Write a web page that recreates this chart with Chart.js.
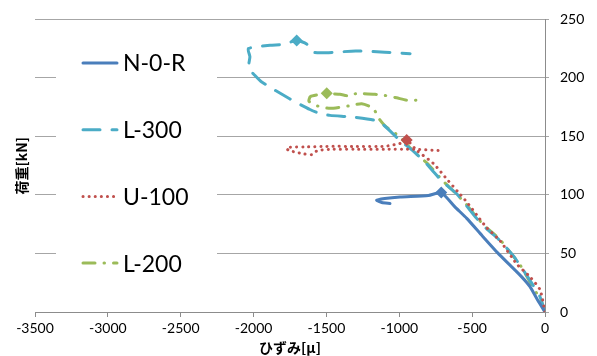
<!DOCTYPE html>
<html>
<head>
<meta charset="utf-8">
<script src="https://cdn.jsdelivr.net/npm/chart.js@4.4.0/dist/chart.umd.min.js"></script>
<style>
  body { margin: 0; background: #fff; }
  canvas { display: block; }
</style>
</head>
<body>
<canvas id="loadChart" width="597" height="356"></canvas>
<script>
// strain [μ] / load [kN]
const n0rStrain = [0, -50, -103, -160, -240, -323, -430, -537, -620, -712, -800, -995, -1100, -1155, -1120, -1064];
const n0rLoad   = [0, 10, 21.6, 30, 40, 50.3, 65, 80, 90, 102, 99.5, 98.3, 97, 95.5, 93.5, 92.7];

const l300Strain = [0, -34, -103, -172, -217, -309, -400, -469, -540, -606, -700, -767, -823, -900, -1007, -1110, -1178, -1315, -1475, -1544, -1613, -1750, -1944, -2002, -2036, -2025, -2036, -1887, -1796, -1704, -1636, -1592, -1500, -1300, -1100, -926];
const l300Load   = [0, 13, 27, 40, 48, 61, 71, 80, 91, 101, 111, 120, 128, 137, 148, 160, 164, 166.5, 168, 169.5, 173, 182, 196.5, 203.6, 208, 218, 225, 228, 228.6, 232, 229, 222, 221.5, 223, 222, 220.7];

const u100Strain = [0, -34, -103, -194, -309, -400, -469, -537, -600, -663, -767, -880, -949, -995, -1100, -1300, -1500, -1650, -1773, -1760, -1727, -1650, -1601, -1560, -1450, -1300, -1100, -900, -732];
const u100Load   = [0, 19, 30, 41, 61, 72, 83, 94, 103, 112, 127, 138, 147, 144, 141.6, 141.5, 141.5, 141, 140.5, 138, 137, 135, 134.5, 138, 139, 139, 139, 139, 138];

const l200Strain = [0, -30, -100, -170, -220, -310, -400, -470, -540, -610, -700, -800, -900, -1000, -1098, -1144, -1178, -1258, -1350, -1475, -1560, -1620, -1610, -1540, -1498, -1460, -1407, -1338, -1300, -1249, -1167, -1098, -1018, -949, -869];
const l200Load   = [0, 10, 25, 40, 48, 62, 72, 81, 92, 101, 112, 126, 137, 150, 159, 166, 174, 178, 176, 174, 176, 180, 184, 186, 187, 186.5, 186, 184.5, 186.5, 186.5, 186, 185, 183, 181, 181];

const seriesNames = ['N-0-R', 'L-300', 'U-100', 'L-200'];
const peakIndex = [9, 29, 12, 24];

const xTicks = [-3500, -3000, -2500, -2000, -1500, -1000, -500, 0];
const yTicks = [0, 50, 100, 150, 200, 250];

const toPoints = (xs, ys) => xs.map((x, i) => ({ x: x, y: ys[i] }));

const styles = [
  { color: '#4A7EBB', dash: [], cap: 'round' },
  { color: '#4BACC6', dash: [17, 12], cap: 'round' },
  { color: '#C0504D', dash: [0.1, 6], cap: 'round' },
  { color: '#9BBB59', dash: [12, 9, 0.5, 9], cap: 'round' }
];

const allPoints = [
  toPoints(n0rStrain, n0rLoad),
  toPoints(l300Strain, l300Load),
  toPoints(u100Strain, u100Load),
  toPoints(l200Strain, l200Load)
];

const datasets = allPoints.map((pts, i) => ({
  label: seriesNames[i],
  data: pts,
  showLine: true,
  borderColor: styles[i].color,
  backgroundColor: styles[i].color,
  borderWidth: 3,
  borderDash: styles[i].dash,
  borderCapStyle: styles[i].cap,
  tension: 0.2,
  pointStyle: 'rectRot',
  pointRadius: (ctx) => ctx.dataIndex === peakIndex[i] ? 6 : 0,
  pointHoverRadius: 0,
  pointBorderWidth: 0,
  order: i === 2 ? 0 : 1
}));

// legend sits inside the plot on a white box
const insideLegend = {
  id: 'insideLegend',
  afterDatasetsDraw(chart) {
    const ctx = chart.ctx;
    ctx.save();
    ctx.fillStyle = '#fff';
    ctx.fillRect(56, 30, 161, 268);
    seriesNames.forEach((name, i) => {
      const y = 63 + i * 66.7;
      ctx.beginPath();
      ctx.strokeStyle = styles[i].color;
      ctx.lineWidth = 3;
      ctx.lineCap = styles[i].cap;
      ctx.setLineDash(styles[i].dash);
      ctx.moveTo(83, y);
      ctx.lineTo(117, y);
      ctx.stroke();
      ctx.setLineDash([]);
      ctx.fillStyle = '#000';
      ctx.font = '23px Lato';
      ctx.textBaseline = 'middle';
      ctx.fillText(name, 123, y + 1);
    });
    ctx.restore();
  }
};

const gridGray = '#A6A6A6';
const axisGray = '#8C8C8C';
const plainNum = (v) => String(v);

new Chart(document.getElementById('loadChart'), {
  type: 'scatter',
  data: { datasets: datasets },
  plugins: [insideLegend],
  options: {
    responsive: false,
    animation: false,
    devicePixelRatio: 1,
    layout: { padding: { top: 19, left: 0, right: 0, bottom: 0 } },
    plugins: {
      legend: { display: false },
      tooltip: { enabled: false }
    },
    scales: {
      x: {
        type: 'linear',
        min: -3500,
        max: 0,
        afterBuildTicks: (axis) => { axis.ticks = xTicks.map(v => ({ value: v })); },
        afterFit: (axis) => { axis.height = 44; },
        ticks: { color: '#000', font: { family: 'Lato', size: 14 }, padding: 3, maxRotation: 0, callback: plainNum },
        grid: { drawOnChartArea: false, drawTicks: true, tickLength: 5, color: axisGray },
        border: { color: axisGray, width: 1 },
        title: {
          display: true,
          text: 'ひずみ[μ]',
          color: '#000',
          font: { family: 'Noto Sans CJK JP', size: 14, weight: 'bold' },
          padding: { top: 0, bottom: 0 }
        }
      },
      y: {
        type: 'linear',
        position: 'right',
        min: 0,
        max: 250,
        afterBuildTicks: (axis) => { axis.ticks = yTicks.map(v => ({ value: v })); },
        afterFit: (axis) => { axis.width = 52; },
        ticks: { color: '#000', font: { family: 'Lato', size: 14 }, padding: 11, callback: plainNum },
        grid: { color: gridGray, tickLength: 4, drawTicks: true },
        border: { color: axisGray, width: 1 }
      },
      yTitle: {
        type: 'linear',
        position: 'left',
        min: 0,
        max: 250,
        afterFit: (axis) => { axis.width = 35; },
        ticks: { display: false },
        grid: { display: false, drawTicks: false },
        border: { display: false },
        title: {
          display: true,
          text: '荷重[kN]',
          color: '#000',
          font: { family: 'Noto Sans CJK JP', size: 14, weight: 'bold' },
          padding: { top: 13, bottom: 0 }
        }
      }
    }
  }
});
</script>
</body>
</html>
